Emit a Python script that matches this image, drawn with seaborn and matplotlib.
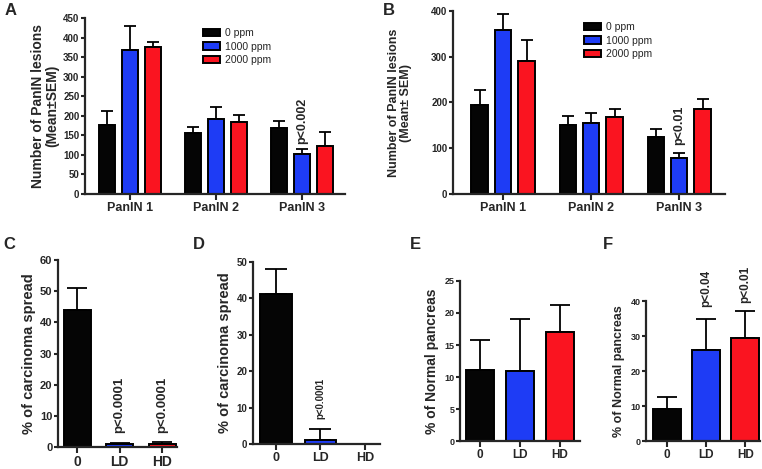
import numpy as np
import pandas as pd
import matplotlib
matplotlib.use("Agg")
import matplotlib.pyplot as plt
import seaborn as sns

# ---------------- data ----------------
stages = ["PanIN 1", "PanIN 2", "PanIN 3"]
doses = ["0 ppm", "1000 ppm", "2000 ppm"]

a_0ppm = [177, 155, 169]
a_1000 = [367, 193, 103]
a_2000 = [376, 183, 122]
a_err_0ppm = [36, 16, 18]
a_err_1000 = [63, 29, 13]
a_err_2000 = [12, 18, 36]

b_0ppm = [194, 150, 125]
b_1000 = [359, 155, 79]
b_2000 = [290, 169, 185]
b_err_0ppm = [33, 20, 17]
b_err_1000 = [34, 21, 11]
b_err_2000 = [46, 16, 23]

groups = ["0", "LD", "HD"]
c_vals = [44.0, 1.0, 1.0]
c_err = [7.0, 0.2, 0.5]
d_vals = [41.2, 1.0, 0.0]
d_err = [7.0, 3.2, 0.0]
e_vals = [11.1, 11.0, 17.0]
e_err = [4.7, 8.0, 4.3]
f_vals = [9.2, 25.9, 29.3]
f_err = [3.5, 9.0, 7.8]

pal = ["#050505", "#1e3cf5", "#fa1420"]

sns.set_style("ticks")
plt.rcParams["font.family"] = ["Liberation Sans", "DejaVu Sans"]
plt.rcParams["axes.linewidth"] = 1.6
plt.rcParams["xtick.major.width"] = 1.5
plt.rcParams["ytick.major.width"] = 1.5

W, H = 762, 469
fig = plt.figure(figsize=(W / 100, H / 100), dpi=100)


def ax_px(left, right, top, bottom):
    return fig.add_axes([left / W, (H - bottom) / H, (right - left) / W, (bottom - top) / H])


def style(ax, ytick_fs, xtick_fs):
    sns.despine(ax=ax)
    ax.tick_params(axis="y", labelsize=ytick_fs, length=3, pad=1)
    ax.tick_params(axis="x", labelsize=xtick_fs, length=4, pad=2)
    for lab in ax.get_yticklabels() + ax.get_xticklabels():
        lab.set_fontweight("bold")
    ax.set_xlabel("")


def upper_err(ax, container, errs, capsize, lw=1.3):
    xs = [p.get_x() + p.get_width() / 2 for p in container.patches]
    hs = [p.get_height() for p in container.patches]
    ax.errorbar(xs, hs, yerr=[np.zeros(len(errs)), errs], fmt="none",
                ecolor="black", elinewidth=lw, capsize=capsize, capthick=lw, zorder=1)


def grouped(ax, v0, v1, v2, e0, e1, e2, ylim, yticks, xlim):
    df = pd.DataFrame({
        "stage": stages * 3,
        "dose": [d for d in doses for _ in stages],
        "val": list(v0) + list(v1) + list(v2),
    })
    sns.barplot(data=df, x="stage", y="val", hue="dose", hue_order=doses,
                palette=pal, saturation=1, gap=0.3, edgecolor="black", linewidth=1.4,
                errorbar=None, ax=ax, zorder=2)
    for cont, errs in zip(ax.containers, [e0, e1, e2]):
        upper_err(ax, cont, errs, capsize=4)
    ax.set_ylim(*ylim)
    ax.set_yticks(yticks)
    ax.set_xlim(*xlim)


def single(ax, vals, errs, width, ylim, yticks, xlim, capsize):
    df = pd.DataFrame({"g": groups, "v": vals})
    sns.barplot(data=df, x="g", y="v", hue="g", palette=pal, saturation=1, legend=False,
                width=width, edgecolor="black", linewidth=1.4, errorbar=None,
                ax=ax, zorder=2)
    for cont, e in zip(ax.containers, errs):
        upper_err(ax, cont, [e], capsize=capsize)
    ax.set_ylim(*ylim)
    ax.set_yticks(yticks)
    ax.set_xlim(*xlim)


def pnote(ax, i, y, text, fs):
    ax.text(i, y, text, rotation=90, ha="center", va="bottom", fontsize=fs,
            fontweight="bold", clip_on=False)


# ---------------- A ----------------
axA = ax_px(85, 345, 18, 194)
grouped(axA, a_0ppm, a_1000, a_2000, a_err_0ppm, a_err_1000, a_err_2000,
        (0, 450), range(0, 451, 50), (-0.52, 2.5))
style(axA, 7, 9)
axA.set_ylabel("Number of PanIN lesions\n(Mean\u00b1SEM)", fontsize=10, fontweight="bold",
               linespacing=1.0, labelpad=3)
axA.legend(loc="upper left", bbox_to_anchor=(203 / W, (H - 28) / H),
           bbox_transform=fig.transFigure, frameon=False, fontsize=7.5,
           handlelength=1.6, handleheight=0.7, handletextpad=0.5,
           labelspacing=0.35, borderpad=0, borderaxespad=0)
pnote(axA, 2, 128, "p<0.002", 9)

# ---------------- B ----------------
axB = ax_px(453, 725, 11, 194)
grouped(axB, b_0ppm, b_1000, b_2000, b_err_0ppm, b_err_1000, b_err_2000,
        (0, 400), range(0, 401, 100), (-0.57, 2.52))
style(axB, 7, 9)
axB.set_ylabel("Number of PanIN lesions\n(Mean\u00b1 SEM)", fontsize=9, fontweight="bold",
               linespacing=1.0, labelpad=14)
axB.legend(loc="upper left", bbox_to_anchor=(584 / W, (H - 22) / H),
           bbox_transform=fig.transFigure, frameon=False, fontsize=7.5,
           handlelength=1.6, handleheight=0.7, handletextpad=0.5,
           labelspacing=0.35, borderpad=0, borderaxespad=0)
pnote(axB, 2, 108, "p<0.01", 9)

# ---------------- C ----------------
axC = ax_px(58, 177, 260, 447)
single(axC, c_vals, c_err, 0.63, (0, 60), range(0, 61, 10), (-0.45, 2.35), 7)
style(axC, 8, 10)
axC.set_ylabel("% of carcinoma spread", fontsize=10.5, fontweight="bold", labelpad=3)
pnote(axC, 1, 4.5, "p<0.0001", 9.5)
pnote(axC, 2, 4.5, "p<0.0001", 9.5)

# ---------------- D ----------------
axD = ax_px(253, 380, 262, 444)
single(axD, d_vals, d_err, 0.72, (0, 50), range(0, 51, 10), (-0.52, 2.34), 8)
style(axD, 7, 9)
axD.set_ylabel("% of carcinoma spread", fontsize=10.5, fontweight="bold", labelpad=3)
pnote(axD, 1, 6.8, "p<0.0001", 7)

# ---------------- E ----------------
axE = ax_px(460, 580, 281, 441)
single(axE, e_vals, e_err, 0.7, (0, 25), range(0, 26, 5), (-0.5, 2.5), 7)
style(axE, 6.5, 8.5)
axE.set_ylabel("% of Normal pancreas", fontsize=10, fontweight="bold", labelpad=4)

# ---------------- F ----------------
axF = ax_px(646, 760, 301, 441)
single(axF, f_vals, f_err, 0.72, (0, 40), range(0, 41, 10), (-0.54, 2.38), 7)
style(axF, 6.5, 8.5)
axF.set_ylabel("% of Normal pancreas", fontsize=9, fontweight="bold", labelpad=4)
pnote(axF, 1, 38.2, "p<0.04", 8.5)
pnote(axF, 2, 39.3, "p<0.01", 8.5)

# ---------------- panel letters ----------------
for letter, x, y in [("A", 5, 3), ("B", 383, 3), ("C", 3, 237), ("D", 193, 237),
                     ("E", 410, 237), ("F", 603, 237)]:
    fig.text(x / W, 1 - y / H, letter, fontsize=12, fontweight="bold", va="top", ha="left")

fig.savefig("out.png", dpi=100)
